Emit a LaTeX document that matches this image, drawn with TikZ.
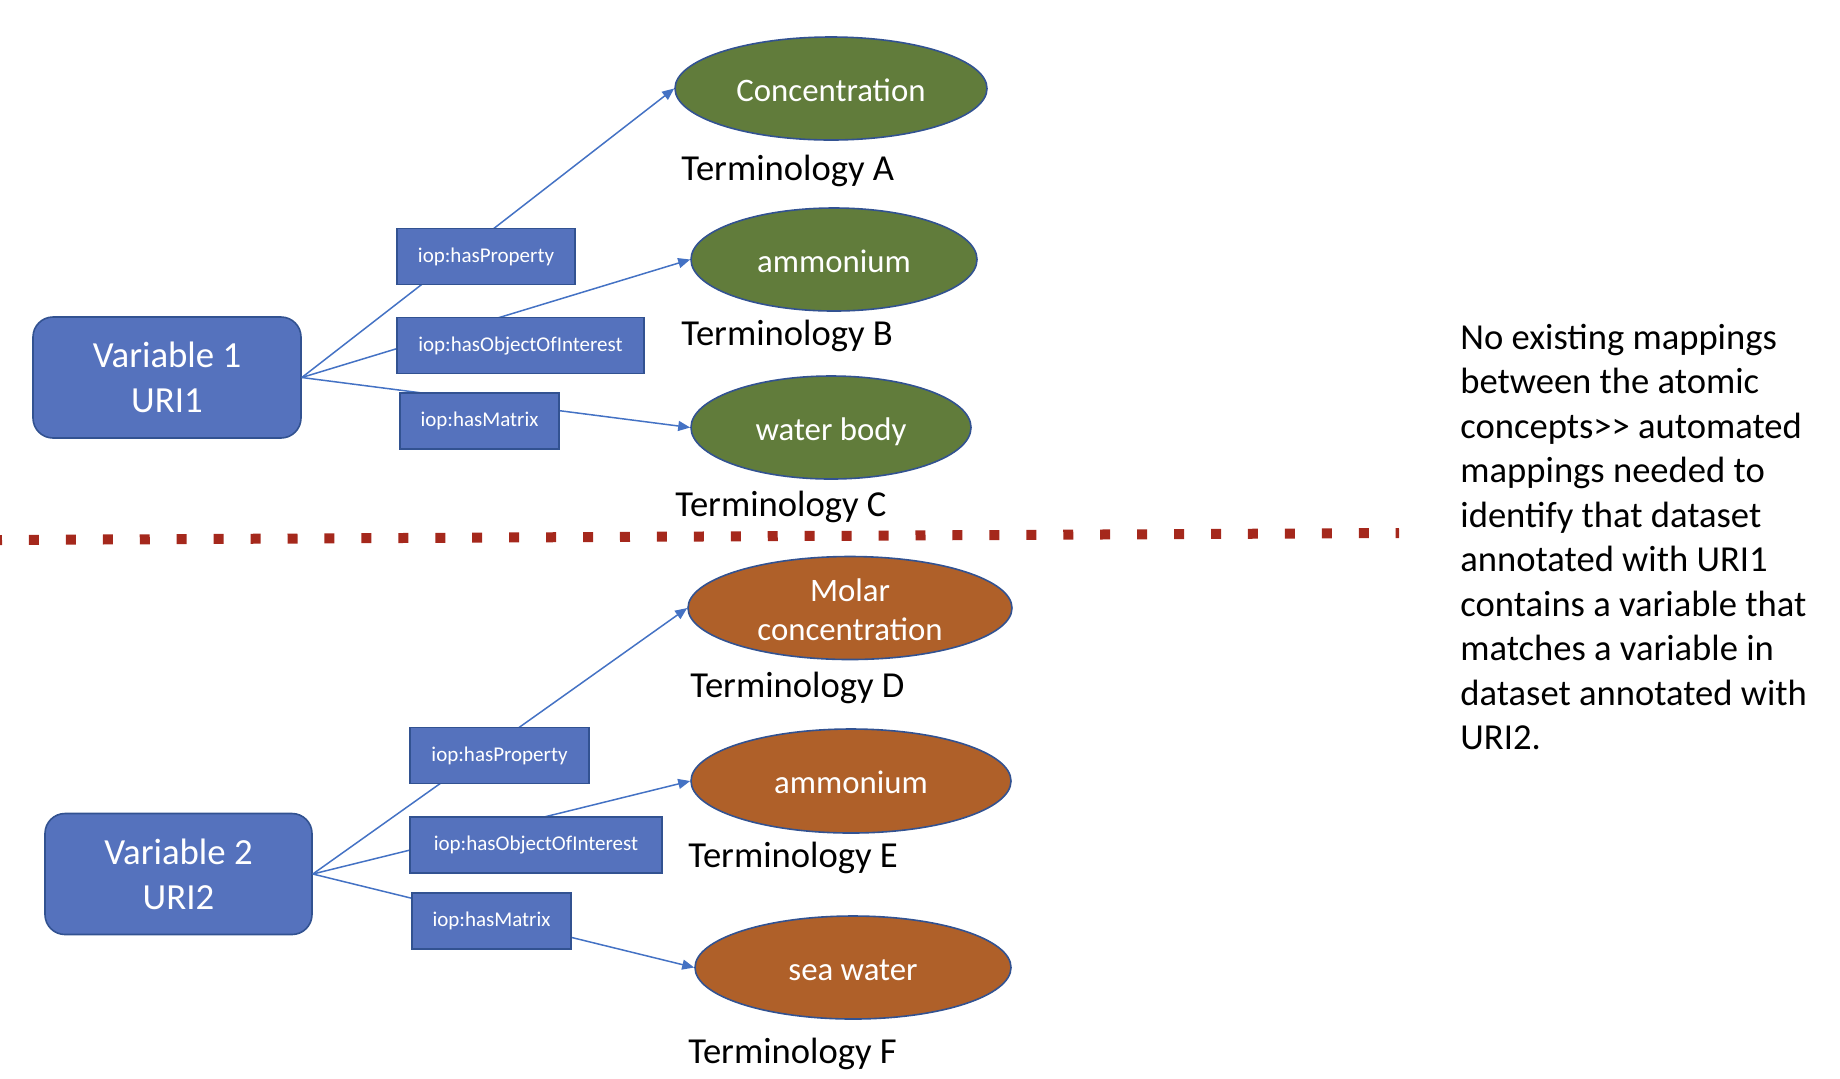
\documentclass[tikz,border=0pt]{standalone}
\usepackage{fontspec}
\setmainfont{Carlito}
\usetikzlibrary{shapes.geometric,arrows.meta}
\definecolor{vfill}{RGB}{85,114,189}
\definecolor{vborder}{RGB}{50,82,145}
\definecolor{egreen}{RGB}{97,124,59}
\definecolor{eorange}{RGB}{175,96,41}
\definecolor{edgeblue}{RGB}{68,114,196}
\definecolor{dotred}{RGB}{165,40,28}
\newcommand{\bigfnt}{\fontsize{18.3}{22.25}\selectfont}
\newcommand{\varfnt}{\fontsize{18.4}{22.4}\selectfont}
\newcommand{\ellfnt}{\fontsize{16.4}{19.5}\selectfont}
\newcommand{\lblfnt}{\fontsize{10.5}{12}\selectfont}
\tikzset{
  varbox/.style={draw=vborder, fill=vfill, line width=0.8pt, rounded corners=10pt,
    text=white, align=center, font=\varfnt, inner sep=0pt},
  concept/.style={ellipse, draw=vborder, line width=0.8pt, text=white, align=center,
    font=\ellfnt, inner sep=0pt, minimum height=51.5pt},
  oneline/.style={text height=12.8pt, text depth=0pt},
  greenconcept/.style={concept, fill=egreen},
  orangeconcept/.style={concept, fill=eorange},
  relbox/.style={draw=vborder, fill=vfill, line width=0.8pt, text=white,
    font=\lblfnt, inner sep=0pt, minimum height=28pt},
  link/.style={draw=edgeblue, line width=0.75pt, -{Triangle[length=6pt,width=5pt]}},
  termlabel/.style={anchor=base west, inner sep=0pt, font=\bigfnt},
  divider/.style={draw=dotred, line width=5pt, dash pattern=on 5pt off 13.47pt, dash phase=4pt}
}
\begin{document}
\begin{tikzpicture}[x=0.5pt,y=-0.5pt]
\useasboundingbox (0,0) rectangle (1840,1078);

% upper group
\node[varbox, minimum width=134pt, minimum height=60.5pt] (v1) at (167,377.5) {Variable 1\\URI1};
\node[greenconcept, oneline, minimum width=156pt] (c1) at (831,88.5) {Concentration};
\node[greenconcept, oneline, minimum width=143pt] (c2) at (834,259.5) {ammonium};
\node[greenconcept, oneline, minimum width=140pt] (c3) at (831,427.5) {water body};
\node[termlabel] (tA) at (681,180) {Terminology A};
\node[termlabel] (tB) at (681,345) {Terminology B};
\node[termlabel] (tC) at (675,516) {Terminology C};

\draw[link] (v1.east) -- (c1.west);
\draw[link] (v1.east) -- (c2.west);
\draw[link] (v1.east) -- (c3.west);

\node[relbox, minimum width=89pt] (p1) at (486,256.5) {iop:hasProperty};
\node[relbox, minimum width=123.5pt] (o1) at (520.5,345.5) {iop:hasObjectOfInterest};
\node[relbox, minimum width=79.5pt] (m1) at (479.5,421) {iop:hasMatrix};

% divider
\coordinate (dl) at (0,540);
\coordinate (dr) at (1399,533);
\draw[divider] (dl) -- (dr);

% lower group
\node[varbox, minimum width=133.5pt, minimum height=60.5pt] (v2) at (178.5,874) {Variable 2\\URI2};
\node[orangeconcept, minimum width=162pt] (d1) at (850,608) {\rule{0pt}{13.6pt}Molar\\concentration};
\node[orangeconcept, oneline, minimum width=160pt, minimum height=52pt] (d2) at (851,781) {ammonium};
\node[orangeconcept, oneline, minimum width=158pt] (d3) at (853,967.5) {sea water};
\node[termlabel] (tD) at (690,697) {Terminology D};
\node[termlabel] (tE) at (688,867) {Terminology E};
\node[termlabel] (tF) at (688,1063) {Terminology F};

\draw[link] (v2.east) -- (d1.west);
\draw[link] (v2.east) -- (d2.west);
\draw[link] (v2.east) -- (d3.west);

\node[relbox, minimum width=89.5pt] (p2) at (499.5,755.5) {iop:hasProperty};
\node[relbox, minimum width=126pt] (o2) at (536,845) {iop:hasObjectOfInterest};
\node[relbox, minimum width=79.5pt] (m2) at (491.5,921) {iop:hasMatrix};

% note
\node[anchor=base west, inner sep=0pt] (note) at (1460,349)
  {\parbox[t]{200pt}{\raggedright\bigfnt No existing mappings\\
  between the atomic\\
  concepts>\kern0pt> automated\\
  mappings needed to\\
  identify that dataset\\
  annotated with URI1\\
  contains a variable that\\
  matches a variable in\\
  dataset annotated with\\
  URI2.}};
\end{tikzpicture}
\end{document}
